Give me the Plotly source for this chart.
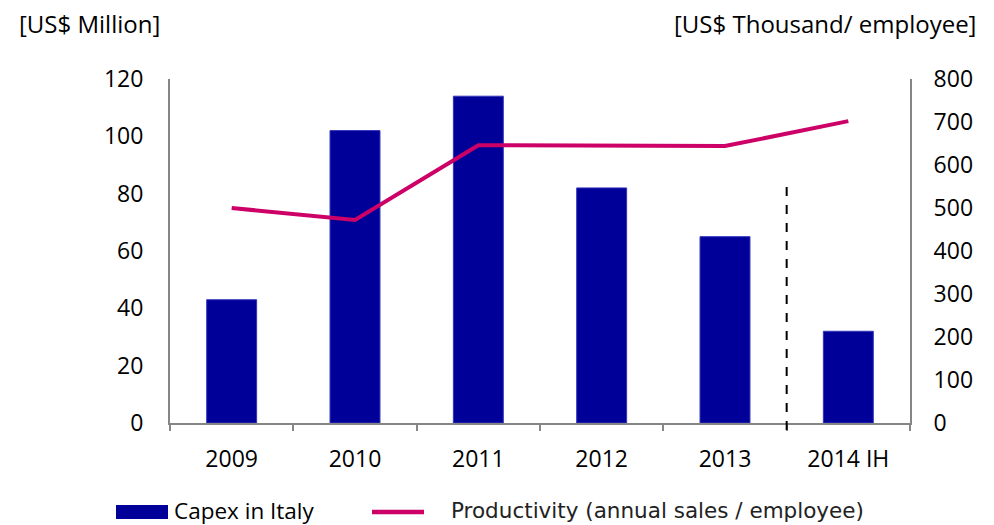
import plotly.graph_objects as go

categories = ["2009", "2010", "2011", "2012", "2013", "2014 IH"]
capex = [43, 102, 114, 82, 65, 32]
productivity = [500, 472, 646, 646, 644, 702]
left_ticks = [0, 20, 40, 60, 80, 100, 120]
right_ticks = [0, 100, 200, 300, 400, 500, 600, 700, 800]

W, H = 994, 525
L, R, T, B = 170, 910, 79, 423


def px(x):
    return (x - L) / (R - L)


def py(y):
    return (B - y) / (B - T)


BAR = "#000099"
LINE = "#CC0066"
AX = "#868686"
FONT = "Open Sans"

fig = go.Figure()
fig.add_trace(go.Bar(x=categories, y=capex, marker=dict(color=BAR, line=dict(color="#3333bb", width=1)),
                     width=0.405, name="Capex in Italy", showlegend=False))
fig.add_trace(go.Scatter(x=categories, y=productivity, mode="lines", yaxis="y2",
                         line=dict(color=LINE, width=4), name="Productivity (annual sales / employee)",
                         showlegend=False))

fig.update_layout(
    width=W, height=H,
    margin=dict(l=L, r=W - R, t=T, b=H - B),
    paper_bgcolor="white", plot_bgcolor="white",
    font=dict(family=FONT, size=20, color="#000"),
    xaxis=dict(type="category", showline=True, linecolor=AX, linewidth=2, ticks="outside",
               tickson="boundaries", ticklen=6, tickcolor=AX, tickwidth=2, showgrid=False,
               tickfont=dict(size=23), ticklabelstandoff=14, range=[-0.5, 5.5]),
    yaxis=dict(range=[0, 120], tickvals=left_ticks, showline=True, linecolor=AX, linewidth=2,
               showgrid=False, zeroline=False, ticks="", ticklabelstandoff=20, tickfont=dict(size=23)),
    yaxis2=dict(range=[0, 800], tickvals=right_ticks, overlaying="y", side="right", showline=True,
                linecolor=AX, linewidth=2, showgrid=False, zeroline=False, ticks="",
                ticklabelstandoff=17, tickfont=dict(size=23)),
    bargap=0.6,
)

# divider between full years and half year
fig.add_shape(type="line", xref="x", yref="paper", x0=4.5, x1=4.5, y0=py(430), y1=py(183),
              line=dict(color="black", width=2, dash="dash"))

# axis titles
fig.add_annotation(text="[US$ Million]", xref="paper", yref="paper", x=px(17), y=py(24),
                   xanchor="left", yanchor="middle", showarrow=False, font=dict(size=24, family=FONT))
fig.add_annotation(text="[US$ Thousand/ employee]", xref="paper", yref="paper", x=px(978), y=py(24),
                   xanchor="right", yanchor="middle", showarrow=False, font=dict(size=24, family=FONT))

# legend
fig.add_shape(type="rect", xref="paper", yref="paper", x0=px(116), x1=px(168), y0=py(519), y1=py(505),
              fillcolor=BAR, line=dict(width=0))
fig.add_annotation(text="Capex in Italy", xref="paper", yref="paper", x=px(172), y=py(510),
                   xanchor="left", yanchor="middle", showarrow=False, font=dict(size=22.5, family=FONT))
fig.add_shape(type="line", xref="paper", yref="paper", x0=px(372), x1=px(424), y0=py(512), y1=py(512),
              line=dict(color=LINE, width=4.5))
fig.add_annotation(text="Productivity (annual sales / employee)", xref="paper", yref="paper",
                   x=px(449), y=py(510), xanchor="left", yanchor="middle", showarrow=False,
                   font=dict(size=21.5, family="DejaVu Sans", color="#222"))

fig.write_html("out.html", config={"displayModeBar": False},
               post_script="document.body.style.margin='0';document.body.style.overflow='hidden';")
